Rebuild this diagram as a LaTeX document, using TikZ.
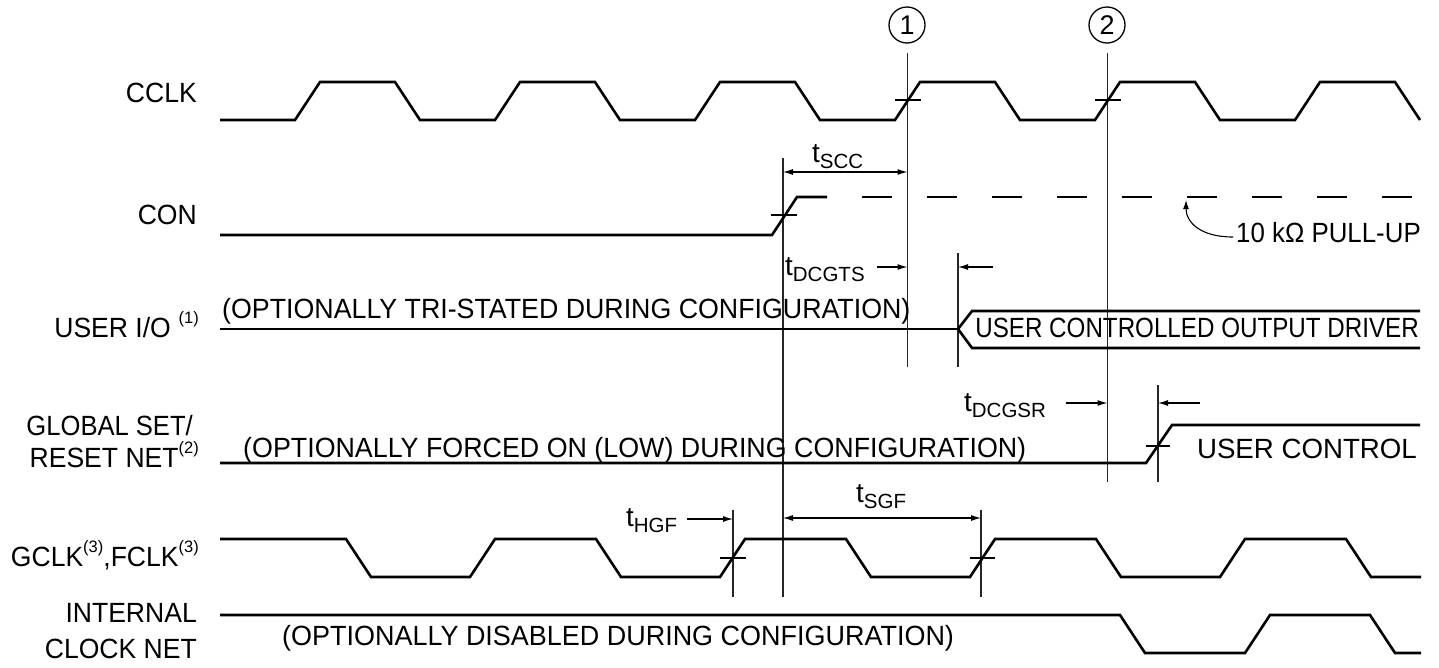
\documentclass[tikz,border=0pt]{standalone}
\usepackage{fontspec}
\setmainfont{Liberation Sans}
\usetikzlibrary{arrows.meta}
\newcommand\tsub[1]{t\raisebox{-0.22em}{\fontsize{20.5}{20.5}\selectfont #1}}
\newcommand\supnote[1]{\raisebox{0.5em}{\fontsize{16.5}{16.5}\selectfont #1}}
\newcommand\sx[2]{\scalebox{#1}[1]{#2}}
\begin{document}
\begin{tikzpicture}[x=1pt,y=-1pt,
  wave/.style={line width=2.6pt, line join=miter},
  guide/.style={line width=1.1pt, draw=black!85},
  tickmark/.style={line width=1.1pt},
  lab/.style={inner sep=0pt, font=\fontsize{27.8}{30}\selectfont},
  tlab/.style={inner sep=0pt, font=\fontsize{27.8}{30}\selectfont},
  dim/.style={line width=1.1pt, -{Latex[length=10pt,width=6pt]}},
  dimboth/.style={line width=1.1pt, {Latex[length=10pt,width=6pt]}-{Latex[length=10pt,width=6pt]}},
  marker/.style={circle, draw, line width=1.3pt, minimum size=36pt, inner sep=0pt, font=\fontsize{27}{27}\selectfont}]
\useasboundingbox (0,0) rectangle (1439,667);

% signal labels
\node[lab, anchor=base east] (lcclk) at (197,102) {\sx{0.955}{CCLK}};
\node[lab, anchor=base east] (lcon) at (197,224) {\sx{0.955}{CON}};
\node[lab, anchor=base east] (luio) at (199,337) {\sx{0.955}{USER I/O} \supnote{(1)}};
\node[lab, anchor=base east] (lgsr1) at (193,435) {\sx{0.92}{GLOBAL SET/}};
\node[lab, anchor=base east] (lgsr2) at (199,467) {\sx{0.955}{RESET NET}\supnote{(2)}};
\node[lab, anchor=base east] (lgclk) at (199,566) {\sx{0.955}{GCLK}\supnote{(3)}\sx{0.955}{,FCLK}\supnote{(3)}};
\node[lab, anchor=base east] (lint1) at (197,622) {\sx{0.955}{INTERNAL}};
\node[lab, anchor=base east] (lint2) at (197,658) {\sx{0.955}{CLOCK NET}};

% markers
\node[marker] (m1) at (907,25) {1};
\node[marker] (m2) at (1107,25) {2};

% guide lines
\coordinate (g1t) at (907.5,53);  \coordinate (g1b) at (907.5,367);
\coordinate (g2t) at (1107.5,53); \coordinate (g2b) at (1107.5,482);
\coordinate (gct) at (783,158);   \coordinate (gcb) at (783,597);
\coordinate (gut) at (958,253);   \coordinate (gub) at (958,367);
\coordinate (grt) at (1158,385);  \coordinate (grb) at (1158,482);
\coordinate (ght) at (733,510);   \coordinate (ghb) at (733,597);
\coordinate (gst) at (981,510);   \coordinate (gsb) at (981,597);
\draw[guide] (g1t) -- (g1b);
\draw[guide] (g2t) -- (g2b);
\draw[guide] (gct) -- (gcb);
\draw[guide] (gut) -- (gub);
\draw[guide] (grt) -- (grb);
\draw[guide] (ght) -- (ghb);
\draw[guide] (gst) -- (gsb);

% CCLK
\draw[wave] (220,120) -- (295,120) -- (320,82) -- (395,82) -- (420,120) -- (495,120) -- (520,82) -- (595,82) -- (620,120) -- (695,120) -- (720,82) -- (795,82) -- (820,120) -- (895,120) -- (920,82) -- (995,82) -- (1020,120) -- (1095,120) -- (1120,82) -- (1195,82) -- (1220,120) -- (1295,120) -- (1320,82) -- (1395,82) -- (1420,120);
\draw[tickmark] (895,100) -- (921,100);
\draw[tickmark] (1095,100) -- (1121,100);

% CON
\draw[wave] (220,235) -- (772,235) -- (797,197) -- (827,197);
\draw[wave, dash pattern=on 30pt off 35pt] (797,197) -- (1412,197);
\draw[tickmark] (771,215) -- (797,215);
\node[tlab, anchor=base west] (pull) at (1236,242) {\sx{0.93}{10 k\char"03A9\ PULL-UP}};
\draw[line width=1.1pt, -{Latex[length=9pt,width=6pt]}] (pull.base west) ++(-3,-5) .. controls (1200,237) and (1186,222) .. (1186,200);

% USER I/O
\draw[wave] (220,329) -- (958,329);
\draw[wave] (1420,311) -- (972,311) -- (958,329) -- (972,348) -- (1420,348);
\node[tlab, anchor=base west] (tri) at (222,318) {\sx{0.963}{(OPTIONALLY TRI-STATED DURING CONFIGURATION)}};
\node[tlab, anchor=base east] (ucod) at (1419,337) {\sx{0.87}{USER CONTROLLED OUTPUT DRIVER}};

% GSR
\draw[wave] (220,463) -- (1146,463) -- (1172,425) -- (1420,425);
\draw[tickmark] (1146,446) -- (1170,446);
\node[tlab, anchor=base west] (forced) at (243,457) {\sx{0.965}{(OPTIONALLY FORCED ON (LOW) DURING CONFIGURATION)}};
\node[tlab, anchor=base east] (uc) at (1417,458) {\sx{0.995}{USER CONTROL}};

% GCLK
\draw[wave] (220,539) -- (346,539) -- (371,577) -- (470,577) -- (495,539) -- (596,539) -- (621,577) -- (720,577) -- (745,539) -- (846,539) -- (871,577) -- (970,577) -- (995,539) -- (1096,539) -- (1121,577) -- (1220,577) -- (1245,539) -- (1346,539) -- (1371,577) -- (1421,577);
\draw[tickmark] (720,558) -- (746,558);
\draw[tickmark] (970,558) -- (995,558);

% INTERNAL CLOCK NET
\draw[wave] (220,615) -- (1120,615) -- (1145,653) -- (1245,653) -- (1270,615) -- (1370,615) -- (1395,653) -- (1421,653);
\node[tlab, anchor=base west] (dis) at (282,645) {\sx{0.97}{(OPTIONALLY DISABLED DURING CONFIGURATION)}};

% timing annotations
\node[tlab, anchor=base west] (tscc) at (812,162) {\tsub{SCC}};
\draw[dimboth] (783,172) -- (907.5,172);

\node[tlab, anchor=base west] (tdcgts) at (785,275) {\tsub{DCGTS}};
\draw[dim] (877,267) -- (907.5,267);
\draw[dim] (993,267) -- (958,267);

\node[tlab, anchor=base west] (tdcgsr) at (964,411) {\tsub{DCGSR}};
\draw[dim] (1066,403) -- (1107.5,403);
\draw[dim] (1200,403) -- (1158,403);

\node[tlab, anchor=base west] (thgf) at (626,526) {\tsub{HGF}};
\draw[dim] (687,519) -- (733,519);

\node[tlab, anchor=base west] (tsgf) at (856,502) {\tsub{SGF}};
\draw[dimboth] (783,518) -- (981,518);
\end{tikzpicture}
\end{document}
